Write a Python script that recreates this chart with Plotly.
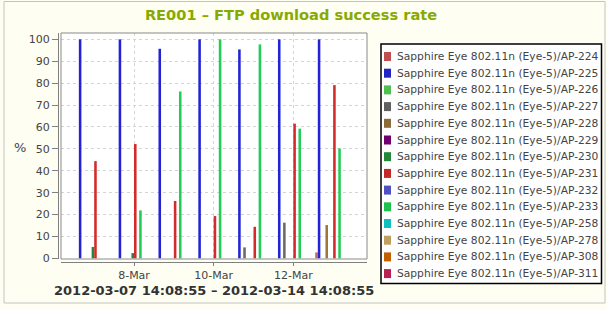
import plotly.graph_objects as go

# ---------------- data ----------------
dates = ["2012-03-07", "2012-03-08", "2012-03-09", "2012-03-10",
         "2012-03-11", "2012-03-12", "2012-03-13"]

series_names = [
    "Sapphire Eye 802.11n (Eye-5)/AP-224",
    "Sapphire Eye 802.11n (Eye-5)/AP-225",
    "Sapphire Eye 802.11n (Eye-5)/AP-226",
    "Sapphire Eye 802.11n (Eye-5)/AP-227",
    "Sapphire Eye 802.11n (Eye-5)/AP-228",
    "Sapphire Eye 802.11n (Eye-5)/AP-229",
    "Sapphire Eye 802.11n (Eye-5)/AP-230",
    "Sapphire Eye 802.11n (Eye-5)/AP-231",
    "Sapphire Eye 802.11n (Eye-5)/AP-232",
    "Sapphire Eye 802.11n (Eye-5)/AP-233",
    "Sapphire Eye 802.11n (Eye-5)/AP-258",
    "Sapphire Eye 802.11n (Eye-5)/AP-278",
    "Sapphire Eye 802.11n (Eye-5)/AP-308",
    "Sapphire Eye 802.11n (Eye-5)/AP-311",
]

N = None
ap224 = [N, N, N, N, N, N, 2.7]
ap225 = [100, 100, 95.7, 100, 95.4, 100, 100]
ap226 = [N, N, N, N, N, N, N]
ap227 = [N, N, N, N, 5.0, 16.3, N]
ap228 = [N, N, N, N, N, N, 15.2]
ap229 = [N, N, N, N, N, N, N]
ap230 = [5.2, 2.4, N, N, N, N, N]
ap231 = [44.4, 52.2, 26.2, 19.3, 14.4, 61.5, 79.1]
ap232 = [N, N, N, N, N, N, N]
ap233 = [N, 21.9, 76.2, 100, 97.7, 59.2, 50.2]
ap258 = [N, N, N, N, N, N, N]
ap278 = [N, N, N, N, N, N, N]
ap308 = [N, N, N, N, N, N, N]
ap311 = [N, N, N, N, N, N, N]

values = [ap224, ap225, ap226, ap227, ap228, ap229, ap230,
          ap231, ap232, ap233, ap258, ap278, ap308, ap311]

legend_colors = ["#C05050", "#2424C4", "#50C050", "#606060", "#8B6B38",
                 "#700070", "#208838", "#C42828", "#5050C0", "#20C050",
                 "#10C0C0", "#C0A060", "#C06000", "#B82050"]
bar_colors = ["#D06060", "#2323D6", "#50C850", "#6A6A6A", "#9A7838",
              "#700070", "#208838", "#D42A2A", "#5050C8", "#22CC55",
              "#10C0C0", "#C0A060", "#C06000", "#B82050"]

y_ticks = list(range(0, 101, 10))

# ---------------- geometry helpers ----------------
W, H = 607, 310
ML, MR, MT, MB = 58, 240, 33, 48
PW = W - ML - MR
PH = H - MT - MB


def px_x(px):
    return (px - ML) / PW


def px_y(py):
    return (H - MB - py) / PH


fig = go.Figure()
for name, vals, col in zip(series_names, values, bar_colors):
    fig.add_trace(go.Bar(x=dates, y=vals, name=name, marker_color=col,
                         marker_line_width=0, showlegend=False))

fig.update_layout(
    width=W, height=H,
    margin=dict(l=ML, r=MR, t=MT, b=MB, pad=0),
    paper_bgcolor="#FEFEF2",
    plot_bgcolor="#FFFFFF",
    barmode="group", bargap=0.1, bargroupgap=0,
    font=dict(family="DejaVu Sans", size=11, color="#444444"),
    title=dict(text="<b>RE001 \u2013 FTP download success rate</b>",
               font=dict(family="DejaVu Sans", size=14.6, color="#88AA00"),
               x=291 / W, xanchor="center", xref="container",
               y=1 - 15 / H, yanchor="middle", yref="container"),
    xaxis=dict(type="date", domain=[px_x(61), 1],
               range=["2012-03-06 04:00", "2012-03-13 20:24"],
               tick0="2012-03-08", dtick=2 * 86400000, tickformat="%-d-%b",
               showgrid=True, gridcolor="#D4D4D4", griddash="3px,3px", gridwidth=1,
               showline=True, linecolor="#808080", linewidth=1,
               ticks="outside", ticklen=3, tickcolor="#808080",
               anchor="free", position=0, zeroline=False,
               tickfont=dict(size=11, color="#444444")),
    yaxis=dict(domain=[px_y(259), 1], range=[-0.3, 102.9],
               tickvals=y_ticks, showgrid=True, gridcolor="#D4D4D4",
               griddash="3px,3px", gridwidth=1, zeroline=False,
               showline=True, linecolor="#808080", linewidth=1,
               ticks="outside", ticklen=6, tickcolor="#808080",
               anchor="free", position=0,
               tickfont=dict(size=11, color="#444444")),
)

shapes = []
# plot frame
shapes.append(dict(type="rect", xref="x domain", yref="y domain",
                   x0=0, x1=1, y0=0, y1=1,
                   line=dict(color="#8A8A8A", width=1), layer="above"))
# outer chart border
shapes.append(dict(type="rect", xref="paper", yref="paper",
                   x0=px_x(4), x1=px_x(605), y0=px_y(303), y1=px_y(1.5),
                   line=dict(color="#C4C4C4", width=1), layer="below"))
# legend box
shapes.append(dict(type="rect", xref="paper", yref="paper",
                   x0=px_x(381), x1=px_x(601.5), y0=px_y(283.5), y1=px_y(44),
                   line=dict(color="#000000", width=1.5),
                   fillcolor="#FFFFFF", layer="below"))

annotations = []
row0, step = 56.5, 16.7
for i, (name, col) in enumerate(zip(series_names, legend_colors)):
    cy = row0 + i * step
    shapes.append(dict(type="rect", xref="paper", yref="paper",
                       x0=px_x(384), x1=px_x(391), y0=px_y(cy + 4.5), y1=px_y(cy - 4.5),
                       line=dict(width=0), fillcolor=col, layer="above"))
    annotations.append(dict(text=name, xref="paper", yref="paper",
                            x=px_x(394.5), y=px_y(cy), xanchor="left", yanchor="middle",
                            showarrow=False,
                            font=dict(family="DejaVu Sans", size=10.7, color="#444444")))

annotations.append(dict(text="%", xref="paper", yref="paper",
                        x=px_x(20), y=px_y(147), xanchor="center", yanchor="middle",
                        showarrow=False, font=dict(size=13, color="#444444")))
annotations.append(dict(text="<b>2012-03-07 14:08:55 \u2013 2012-03-14 14:08:55</b>",
                        xref="x domain", yref="paper", x=0.5, y=px_y(290),
                        xanchor="center", yanchor="middle", showarrow=False,
                        font=dict(family="DejaVu Sans", size=13, color="#333333")))

fig.update_layout(shapes=shapes, annotations=annotations)
fig.write_html("out.html")
